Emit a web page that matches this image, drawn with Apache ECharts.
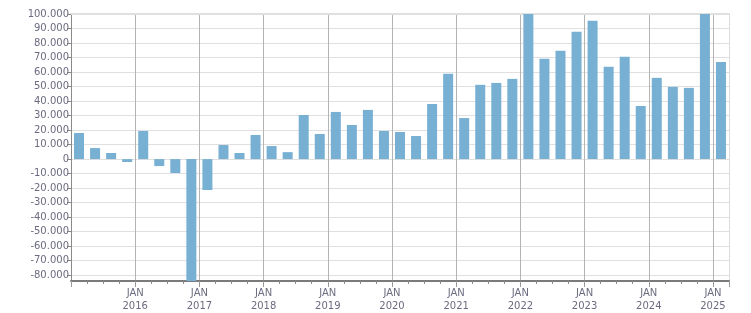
<!DOCTYPE html>
<html>
<head>
<meta charset="utf-8">
<script src="https://cdn.jsdelivr.net/npm/echarts@6/dist/echarts.min.js"></script>
<style>
html,body{margin:0;padding:0;background:#fff;}
#c{width:751px;height:313px;}
</style>
</head>
<body>
<div id="c"></div>
<script>
var categories = [
  "2015 Q1","2015 Q2","2015 Q3","2015 Q4",
  "2016 Q1","2016 Q2","2016 Q3","2016 Q4",
  "2017 Q1","2017 Q2","2017 Q3","2017 Q4",
  "2018 Q1","2018 Q2","2018 Q3","2018 Q4",
  "2019 Q1","2019 Q2","2019 Q3","2019 Q4",
  "2020 Q1","2020 Q2","2020 Q3","2020 Q4",
  "2021 Q1","2021 Q2","2021 Q3","2021 Q4",
  "2022 Q1","2022 Q2","2022 Q3","2022 Q4",
  "2023 Q1","2023 Q2","2023 Q3","2023 Q4",
  "2024 Q1","2024 Q2","2024 Q3","2024 Q4",
  "2025 Q1"
];
var values = [
  18000, 7600, 4200, -2000,
  19400, -4800, -9600, -100000,
  -21300, 9700, 4200, 16600,
  9000, 4800, 30400, 17300,
  32500, 23500, 33900, 19400,
  18700, 15900, 38000, 58800,
  28300, 51200, 52500, 55300,
  105000, 69100, 74700, 87800,
  95400, 63600, 70500, 36600,
  56000, 49800, 49100, 105000,
  67000
];
var yTickValues = [-80000,-70000,-60000,-50000,-40000,-30000,-20000,-10000,0,10000,20000,30000,40000,50000,60000,70000,80000,90000,100000];
var monthLabel = "JAN";

function fmt(v){
  var neg = v < 0; var s = String(Math.abs(Math.round(v)));
  s = s.replace(/\B(?=(\d{3})+(?!\d))/g, ".");
  return (neg ? "-" : "") + s;
}
function isJan(i){ return categories[i] && categories[i].indexOf("Q1") > -1; }

var chart = echarts.init(document.getElementById('c'), null, {renderer:'canvas'});
var textColor = '#6b6b80';
var font = 'DejaVu Sans';
chart.setOption({
  animation: false,
  grid: {left: 71, right: 22, top: 14, bottom: 32, containLabel: false},
  xAxis: [
    {
      type: 'category', data: categories, boundaryGap: true, position: 'bottom',
      axisLine: {show: true, onZero: false, lineStyle: {color: '#7a7a7a', width: 2}},
      axisTick: {show: true, interval: 0, length: 3, lineStyle: {color: '#8a8a8a'}},
      axisLabel: {
        interval: function(i){ return isJan(i) && i > 0; },
        formatter: function(v){ return monthLabel + "\n" + v.slice(0,4); },
        color: textColor, fontFamily: font, fontSize: 10, lineHeight: 13,
        margin: 6, align: 'center', padding: [0, 16, 0, 0]
      },
      splitLine: {show: true, interval: function(i){ return isJan(i); }, lineStyle: {color: '#b4b4b4', width: 1}}
    },
    {
      type: 'category', data: categories, boundaryGap: true, position: 'bottom',
      axisLine: {show: false, onZero: false},
      axisTick: {show: true, interval: function(i){ return isJan(i); }, length: 6, lineStyle: {color: '#9a9a9a'}},
      axisLabel: {show: false}, splitLine: {show: false}
    },
    {
      type: 'category', data: categories, position: 'top',
      axisLine: {show: true, onZero: false, lineStyle: {color: '#e0e0e0', width: 2}},
      axisTick: {show: false}, axisLabel: {show: false}, splitLine: {show: false}
    }
  ],
  yAxis: [
    {
      type: 'value', min: -84000, max: 100000, splitNumber: 18,
      axisLine: {show: true, onZero: false, lineStyle: {color: '#8a8a8a'}},
      axisTick: {show: true, length: 4, lineStyle: {color: '#8a8a8a'}},
      axisLabel: {
        showMinLabel: false, color: textColor, fontFamily: font, fontSize: 10, margin: 2,
        formatter: function(v){ return yTickValues.indexOf(v) > -1 ? fmt(v) : ''; }
      },
      splitLine: {show: true, lineStyle: {color: '#e0e0e0', width: 1}}
    },
    {
      type: 'value', min: -84000, max: 100000, position: 'right',
      axisLine: {show: true, onZero: false, lineStyle: {color: '#dcdcdc'}},
      axisTick: {show: false}, axisLabel: {show: false}, splitLine: {show: false}
    }
  ],
  series: [{
    type: 'bar', data: values, xAxisIndex: 0, yAxisIndex: 0,
    barWidth: 10, clip: true,
    itemStyle: {color: '#77b0d3'}
  }]
});
</script>
</body>
</html>
